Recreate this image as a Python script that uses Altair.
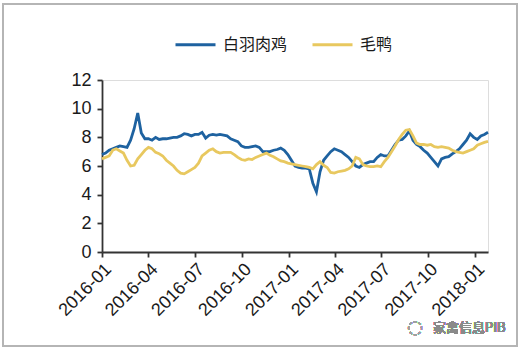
import altair as alt
import pandas as pd

series_names = ["白羽肉鸡", "毛鸭"]

broiler = [6.8, 6.9, 7.1, 7.2, 7.3, 7.4, 7.35, 7.3, 7.8, 8.6,
           9.7, 8.3, 7.9, 7.9, 7.8, 8.0, 7.85, 7.9, 7.9, 7.95,
           8.0, 8.0, 8.1, 8.25, 8.2, 8.1, 8.2, 8.2, 8.35, 7.95,
           8.15, 8.2, 8.15, 8.2, 8.15, 8.1, 7.9, 7.8, 7.7, 7.4,
           7.3, 7.3, 7.35, 7.4, 7.3, 7.0, 7.0, 7.0, 7.1, 7.15,
           7.25, 7.1, 6.8, 6.4, 6.0, 5.9, 5.85, 5.85, 5.8, 4.8,
           4.2, 5.6, 6.4, 6.7, 7.0, 7.2, 7.1, 7.0, 6.8, 6.6,
           6.3, 6.0, 5.9, 6.1, 6.2, 6.3, 6.3, 6.6, 6.8, 6.7,
           6.7, 7.1, 7.5, 7.8, 7.85, 8.1, 8.45, 7.8, 7.5, 7.35,
           7.1, 6.9, 6.6, 6.3, 6.0, 6.5, 6.6, 6.65, 6.85, 7.0,
           7.2, 7.5, 7.8, 8.25, 8.0, 7.85, 8.1, 8.2, 8.35]

duck = [6.5, 6.6, 6.7, 7.1, 7.2, 7.05, 6.9, 6.4, 6.0, 6.05,
        6.5, 6.8, 7.1, 7.3, 7.2, 6.95, 6.85, 6.7, 6.4, 6.2,
        6.0, 5.7, 5.5, 5.45, 5.6, 5.75, 5.9, 6.2, 6.7, 6.9,
        7.1, 7.2, 7.0, 6.9, 6.95, 6.95, 6.95, 6.8, 6.6, 6.45,
        6.4, 6.5, 6.45, 6.6, 6.7, 6.8, 6.9, 6.75, 6.65, 6.5,
        6.35, 6.3, 6.2, 6.15, 6.1, 6.05, 6.0, 5.95, 5.9, 5.8,
        6.1, 6.3, 6.05, 5.9, 5.55, 5.5, 5.6, 5.65, 5.7, 5.8,
        6.0, 6.6, 6.5, 6.1, 6.0, 5.95, 5.95, 6.0, 5.95, 6.3,
        6.6, 7.0, 7.4, 7.85, 8.2, 8.5, 8.55, 8.1, 7.6, 7.5,
        7.5, 7.45, 7.5, 7.35, 7.3, 7.35, 7.3, 7.25, 7.1, 7.0,
        6.95, 6.9, 7.0, 7.1, 7.2, 7.45, 7.55, 7.65, 7.72]

dates = pd.date_range("2016-01-01", periods=len(broiler), freq="7D").strftime("%Y-%m-%d").tolist()

tick_months = [(2016, 1), (2016, 4), (2016, 7), (2016, 10), (2017, 1),
               (2017, 4), (2017, 7), (2017, 10), (2018, 1)]

rows = []
for d, v in zip(dates, broiler):
    rows.append({"date": d, "series": series_names[0], "value": v})
for d, v in zip(dates, duck):
    rows.append({"date": d, "series": series_names[1], "value": v})
df = pd.DataFrame(rows)

FONT = "Liberation Sans"
CJK = "Noto Sans CJK SC"

lines = alt.Chart(df).mark_line(strokeWidth=2.8, interpolate="linear").encode(
    x=alt.X(
        "date:T",
        scale=alt.Scale(
            type="utc",
            domain=[alt.DateTime(year=2016, month=1, date=1, utc=True),
                    alt.DateTime(year=2018, month=1, date=26, utc=True)],
        ),
        axis=alt.Axis(
            values=[alt.DateTime(year=y, month=m, date=1, utc=True) for y, m in tick_months],
            format="%Y-%m",
            labelAngle=-45,
            labelAlign="right",
            labelBaseline="top",
            labelFontSize=18,
            labelFont=FONT,
            labelColor="#1a1a1a",
            labelPadding=3,
            labelOverlap=False,
            labelBound=False,
            domainColor="#333333",
            domainWidth=1.8,
            tickColor="#333333",
            tickWidth=1.8,
            tickSize=5,
            grid=False,
            title=None,
        ),
    ),
    y=alt.Y(
        "value:Q",
        scale=alt.Scale(domain=[0, 12], nice=False),
        axis=alt.Axis(
            values=[0, 2, 4, 6, 8, 10, 12],
            labelFontSize=18,
            labelFont=FONT,
            labelColor="#1a1a1a",
            labelPadding=6,
            labelOverlap=False,
            domainColor="#333333",
            domainWidth=1.8,
            tickColor="#333333",
            tickWidth=1.8,
            tickSize=5,
            grid=False,
            title=None,
        ),
    ),
    color=alt.Color(
        "series:N",
        scale=alt.Scale(domain=series_names, range=["#1E62A0", "#E8C85F"]),
        legend=alt.Legend(
            orient="none",
            legendX=72,
            legendY=-57,
            direction="horizontal",
            title=None,
            symbolType="stroke",
            symbolSize=1600,
            symbolStrokeWidth=3,
            labelFont=CJK,
            labelFontSize=16,
            labelColor="#1a1a1a",
            labelOffset=6,
            columnPadding=18,
        ),
    ),
)

frame = alt.Chart(df).mark_rect(fill=None, stroke="#b5b5b5", strokeWidth=1.5).encode(
    x=alt.value(-99), x2=alt.value(415), y=alt.value(-76), y2=alt.value(266)
)

watermark = alt.Chart(df).mark_text(
    text="家禽信息PIB", font=CJK, fontSize=13, color="#8a8a8a", align="left", baseline="middle"
).encode(x=alt.value(331), y=alt.value(248))

icon = alt.Chart(df).mark_text(
    text="◌", font="DejaVu Sans", fontSize=18, color="#a0a0a0", align="center", baseline="middle"
).encode(x=alt.value(313), y=alt.value(248))

chart = alt.layer(frame, lines, watermark, icon).properties(
    width=386,
    height=172,
    padding={"left": 102, "top": 80, "right": 34, "bottom": 100},
    autosize=alt.AutoSizeParams(type="none"),
).configure_view(stroke=None).configure(background="white")

chart.save("out.html", embed_options={"renderer": "svg", "actions": False})
